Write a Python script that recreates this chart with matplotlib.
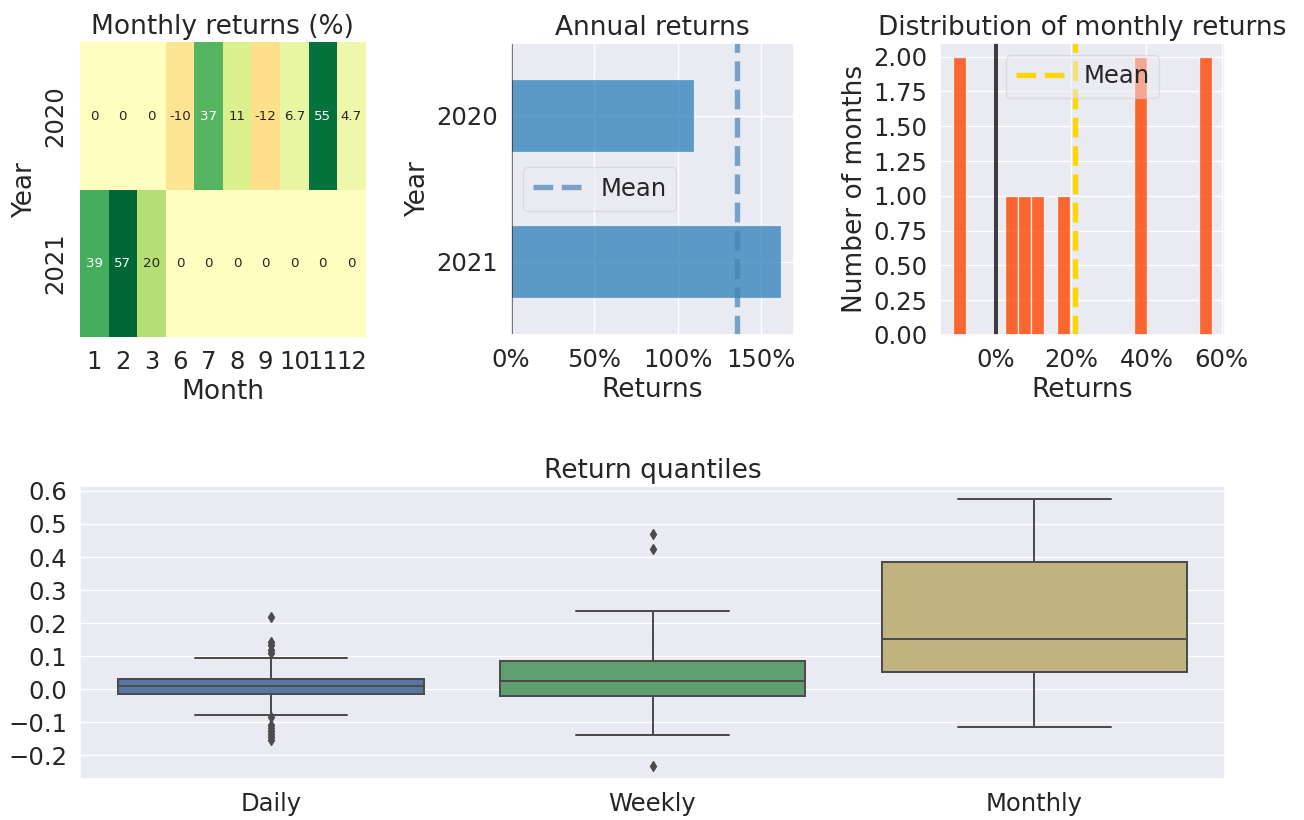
import colorsys

import numpy as np
import matplotlib
matplotlib.use("Agg")
import matplotlib.pyplot as plt
from matplotlib.colors import to_rgb
from matplotlib.lines import Line2D
from matplotlib.ticker import FuncFormatter, MultipleLocator
from matplotlib import cbook
import seaborn as sns

# ---- data -------------------------------------------------------------
# Monthly returns (%) laid out by calendar month; untraded months shown as 0
months = [1, 2, 3, 6, 7, 8, 9, 10, 11, 12]
years = [2020, 2021]
returns_2020 = [0, 0, 0, -10, 37, 11, -11.5, 6.7, 55, 4.7]
returns_2021 = [39, 57.45, 19.51, 0, 0, 0, 0, 0, 0, 0]

# Traded months only (Jun 2020 - Mar 2021), in %
monthly_returns = [-10, 37, 11, -11.5, 6.7, 55, 4.7, 39, 57.45, 19.51]

# Annual returns (%), listed bottom to top
annual_years = [2021, 2020]
annual_returns = [161.6, 109.7]

# Return quantiles
quantile_labels = ["Daily", "Weekly", "Monthly"]
daily_box = dict(q1=-0.015, med=0.010, q3=0.032, whislo=-0.078, whishi=0.095)
daily_fliers = [0.219, 0.142, 0.133, 0.118, 0.110,
                -0.083, -0.108, -0.117, -0.126, -0.135, -0.145, -0.152]
weekly_box = dict(q1=-0.020, med=0.025, q3=0.085, whislo=-0.138, whishi=0.237)
weekly_fliers = [0.471, 0.423, -0.231]

box_palette = ["#4c72B0", "#55A868", "#CCB974"]

# ---- style ------------------------------------------------------------
sns.set_style("darkgrid")
sns.set_context("notebook", font_scale=1.65)

W, H, DPI = 1304, 820, 96
fig = plt.figure(figsize=(W / DPI, H / DPI), dpi=DPI)


def rect(left, top, right, bottom):
    return [left / W, 1 - bottom / H, (right - left) / W, (bottom - top) / H]


pct_fmt = FuncFormatter(lambda x, pos: "%.0f%%" % x)

# ---- monthly returns heatmap -------------------------------------------
ax_heat = fig.add_axes(rect(80, 42.3, 365.7, 337.3))
table = np.array([returns_2020, returns_2021], dtype=float)
sns.heatmap(table, annot=True, annot_kws={"size": 10}, alpha=1.0, center=0.0,
            cbar=False, cmap="RdYlGn", ax=ax_heat,
            xticklabels=months, yticklabels=years)
ax_heat.set_yticklabels([str(y) for y in years], rotation=90, va="center")
ax_heat.set_xticklabels([str(m) for m in months], rotation=0)
ax_heat.set_ylabel("Year")
ax_heat.set_xlabel("Month")
ax_heat.set_title("Monthly returns (%)")

# ---- annual returns ----------------------------------------------------
ax_ann = fig.add_axes(rect(511, 42.7, 794, 335))
ax_ann.axvline(np.mean(annual_returns), color="steelblue", linestyle="--",
               lw=4, alpha=0.7)
ax_ann.barh(range(len(annual_years)), annual_returns, height=0.5,
            color="#1f77b4", alpha=0.7)
ax_ann.axvline(0.0, color="black", linestyle="-", lw=3, alpha=0.5)
ax_ann.set_yticks(range(len(annual_years)))
ax_ann.set_yticklabels([str(y) for y in annual_years])
ax_ann.set_ylim(-0.5, len(annual_years) - 0.5)
ax_ann.xaxis.set_major_locator(MultipleLocator(50))
ax_ann.xaxis.set_major_formatter(pct_fmt)
ax_ann.set_ylabel("Year")
ax_ann.set_xlabel("Returns")
ax_ann.set_title("Annual returns")
ax_ann.legend([Line2D([], [], color="steelblue", linestyle="--", lw=4, alpha=0.7)],
              ["Mean"], frameon=True, framealpha=0.5, loc="center left")

# ---- distribution of monthly returns -----------------------------------
ax_hist = fig.add_axes(rect(940, 42.7, 1225, 335))
ax_hist.hist(monthly_returns, color="orangered", alpha=0.80, bins=20)
ax_hist.axvline(np.mean(monthly_returns), color="gold", linestyle="--",
                lw=4, alpha=1.0)
ax_hist.axvline(0.0, color="black", linestyle="-", lw=3, alpha=0.75)
ax_hist.xaxis.set_major_formatter(pct_fmt)
ax_hist.xaxis.set_major_locator(MultipleLocator(20))
ax_hist.yaxis.set_major_locator(MultipleLocator(0.25))
ax_hist.yaxis.set_major_formatter(FuncFormatter(lambda y, pos: "%.2f" % y))
ax_hist.set_ylabel("Number of months")
ax_hist.set_xlabel("Returns")
ax_hist.set_title("Distribution of monthly returns")
ax_hist.legend([Line2D([], [], color="gold", linestyle="--", lw=4)], ["Mean"],
               frameon=True, framealpha=0.5, loc="upper center")

# ---- return quantiles --------------------------------------------------
ax_box = fig.add_axes(rect(80, 486, 1225, 779))


def desaturate(color, prop):
    h, l, s = colorsys.rgb_to_hls(*to_rgb(color))
    return colorsys.hls_to_rgb(h, l, s * prop)


box_colors = [desaturate(c, 0.75) for c in box_palette]
lum = min(colorsys.rgb_to_hls(*c)[1] for c in box_colors) * 0.6
gray = (lum, lum, lum)

monthly_stats = cbook.boxplot_stats(np.array(monthly_returns) / 100.0)[0]
stats = [
    dict(daily_box, fliers=daily_fliers),
    dict(weekly_box, fliers=weekly_fliers),
    dict(q1=monthly_stats["q1"], med=monthly_stats["med"], q3=monthly_stats["q3"],
         whislo=monthly_stats["whislo"], whishi=monthly_stats["whishi"],
         fliers=list(monthly_stats["fliers"])),
]
lw = 1.5
parts = ax_box.bxp(stats, positions=range(len(stats)), widths=0.8,
                   patch_artist=True,
                   boxprops=dict(edgecolor=gray, linewidth=lw),
                   medianprops=dict(color=gray, linewidth=lw),
                   whiskerprops=dict(color=gray, linewidth=lw),
                   capprops=dict(color=gray, linewidth=lw),
                   flierprops=dict(marker="d", markerfacecolor=gray,
                                   markeredgecolor=gray, markersize=5,
                                   linestyle="none"))
for patch, c in zip(parts["boxes"], box_colors):
    patch.set_facecolor(c)
ax_box.set_xlim(-0.5, len(stats) - 0.5)
ax_box.set_xticks(range(len(stats)))
ax_box.set_xticklabels(quantile_labels)
ax_box.yaxis.set_major_locator(MultipleLocator(0.1))
ax_box.xaxis.grid(False)
ax_box.set_title("Return quantiles")

fig.savefig("out.png", dpi=DPI)
